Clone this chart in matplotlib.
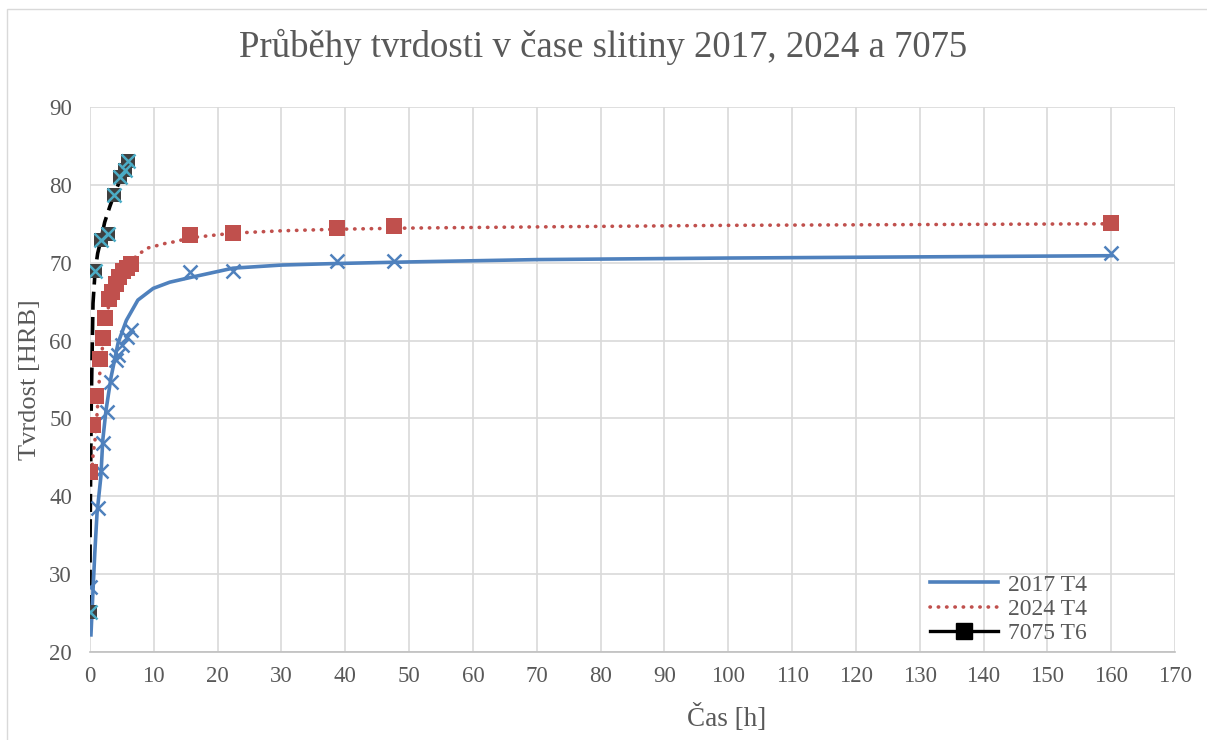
import numpy as np
import matplotlib
matplotlib.use('Agg')
import matplotlib.pyplot as plt
from matplotlib.lines import Line2D
from matplotlib.patches import Rectangle

plt.rcParams['font.family'] = ['Liberation Serif', 'DejaVu Serif']

# --- data ---
# 2017 T4 (measured points)
x_2017 = [0.0, 1.2, 1.7, 2.0, 2.7, 3.3, 4.1, 4.4, 5.0, 5.8, 6.4, 15.7, 22.4, 38.7, 47.6, 159.9]
y_2017 = [28.3, 38.5, 43.2, 46.8, 50.8, 54.7, 57.5, 58.1, 59.4, 60.4, 61.3, 68.8, 69.0, 70.2, 70.2, 71.2]
# 2024 T4 (measured points)
x_2024 = [0.0, 0.5, 0.9, 1.5, 2.0, 2.4, 3.0, 3.5, 4.0, 4.6, 5.2, 5.8, 6.5, 15.7, 22.4, 38.7, 47.6, 159.9]
y_2024 = [43.1, 49.1, 52.9, 57.6, 60.3, 62.9, 65.3, 66.3, 67.3, 68.2, 68.9, 69.3, 69.8, 73.5, 73.8, 74.5, 74.7, 75.1]
# 7075 T6 (measured points)
x_7075 = [0.0, 0.8, 1.7, 2.8, 3.8, 4.7, 5.5, 6.0]
y_7075 = [25.1, 68.9, 72.9, 73.7, 78.7, 81.0, 81.9, 83.1]

# trend curves
tr_2017_x = [0.15, 0.45, 0.75, 1.1, 1.7, 2.0, 2.5, 3.3, 4.4, 5.7, 7.5, 9.9, 12.5, 15.7, 22.4, 30, 38.7, 50, 70, 100, 130, 160]
tr_2017_y = [22.2, 27.5, 32.7, 37.8, 42.5, 47.2, 51.0, 55.3, 59.7, 62.6, 65.2, 66.7, 67.5, 68.1, 69.3, 69.7, 69.9, 70.1, 70.4, 70.6, 70.75, 70.9]
tr_2024_x = [0.3, 0.47, 0.84, 1.15, 1.5, 2.0, 2.5, 3.0, 4.0, 5.0, 6.5, 7.8, 9.1, 10.5, 11.9, 13.3, 15.7, 22.4, 30, 38.7, 50, 70, 100, 130, 160]
tr_2024_y = [43.0, 45.2, 47.6, 51.1, 55.5, 59.5, 62.5, 64.8, 67.3, 68.8, 70.3, 71.2, 71.9, 72.2, 72.5, 72.7, 73.2, 73.8, 74.1, 74.3, 74.45, 74.6, 74.8, 74.9, 75.0]
tr_7075_x = [0.0, 0.02, 0.1, 0.2, 0.47, 0.8, 1.2, 1.7, 2.3, 3.1, 3.8, 4.7, 5.5, 6.0]
tr_7075_y = [25.0, 35.0, 43.0, 52.0, 64.8, 68.9, 71.2, 72.9, 75.2, 77.2, 78.8, 80.6, 82.0, 83.0]

x_ticks = list(range(0, 171, 10))
y_ticks = list(range(20, 91, 10))

BLUE = '#4F81BD'
RED = '#C0504D'
TEAL = '#4BACC6'
DARK = '#3F3F3F'
TXT = '#595959'
GRID = '#D9D9D9'

fig = plt.figure(figsize=(12.07, 7.40), dpi=100)
# chart area border
fig.patches.append(Rectangle((7 / 1207, -0.01), 1.02, 0.999 - 8 / 740 + 0.01, transform=fig.transFigure,
                             fill=False, edgecolor='#D9D9D9', lw=1.0))

ax = fig.add_axes([90 / 1207, 88 / 740, 1085 / 1207, 545 / 740])

# trend lines
ax.plot(tr_7075_x, tr_7075_y, color='black', lw=2.6, dashes=(5, 2.0), zorder=3)
ax.plot(tr_2024_x, tr_2024_y, color=RED, lw=2.6, linestyle=(0, (0.1, 2.2)), dash_capstyle='round', zorder=3)
ax.plot(tr_2017_x, tr_2017_y, color=BLUE, lw=2.6, zorder=4)

# data markers
ax.plot(x_2017, y_2017, linestyle='none', marker='x', ms=10, mew=1.8, color=BLUE, zorder=5)
ax.plot(x_2024, y_2024, linestyle='none', marker='s', ms=11, mew=0, color=RED, zorder=5)
ax.plot(x_7075, y_7075, linestyle='none', marker='s', ms=10, mew=0, color=DARK, zorder=6)
ax.plot(x_7075, y_7075, linestyle='none', marker='x', ms=10, mew=1.8, color=TEAL, zorder=7)

ax.set_xlim(0, 170)
ax.set_ylim(20, 90)
ax.set_xticks(x_ticks)
ax.set_yticks(y_ticks)
ax.grid(True, color=GRID, lw=1.2)
ax.set_axisbelow(True)
for s in ['top', 'right', 'left']:
    ax.spines[s].set_visible(False)
ax.spines['bottom'].set_color('#BFBFBF')
ax.spines['bottom'].set_linewidth(1.2)
ax.tick_params(length=0, labelsize=16.5, colors=TXT)
ax.tick_params(axis='x', pad=10)
ax.tick_params(axis='y', pad=13)

ax.set_ylabel('Tvrdost [HRB]', fontsize=19, color=TXT, labelpad=6)
fig.text(727 / 1207, 1 - 718 / 740, 'Čas [h]', ha='center', va='center', fontsize=19.5, color=TXT)
fig.text(0.5, 1 - 47 / 740, 'Průběhy tvrdosti v čase slitiny 2017, 2024 a 7075',
         ha='center', va='center', fontsize=26.5, color=TXT)

handles = [
    Line2D([], [], color=BLUE, lw=2.6),
    Line2D([], [], color=RED, lw=2.6, linestyle=(0, (0.1, 2.2)), dash_capstyle='round'),
    Line2D([], [], color='black', lw=2.4, marker='s', ms=11, markerfacecolor='black'),
]
ax.legend(handles, ['2017 T4', '2024 T4', '7075 T6'], loc='upper left',
          bbox_to_anchor=(930 / 1207, 1 - 574 / 740), bbox_transform=fig.transFigure,
          frameon=False, fontsize=17, labelcolor=TXT, handlelength=2.9,
          handletextpad=0.4, labelspacing=0.12, borderpad=0, borderaxespad=0)

fig.savefig('out.png', dpi=100)
